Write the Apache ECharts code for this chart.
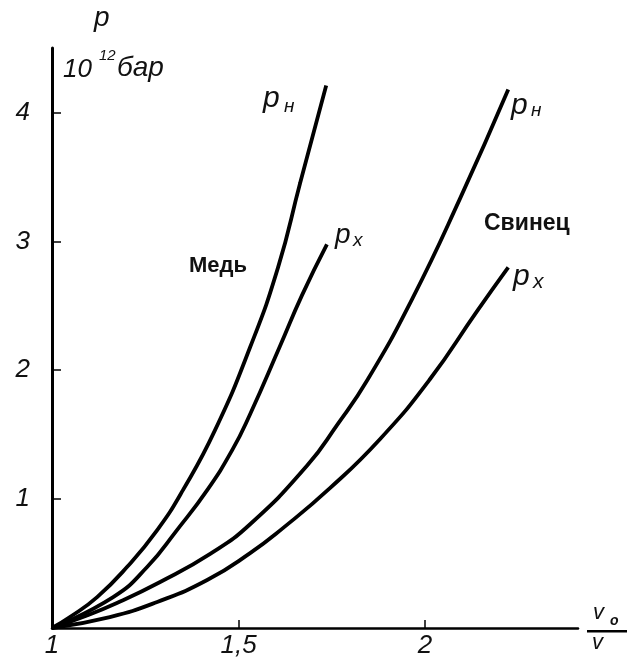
<!DOCTYPE html>
<html>
<head>
<meta charset="utf-8">
<script src="https://cdn.jsdelivr.net/npm/echarts@6/dist/echarts.min.js"></script>
<style>
  html, body { margin: 0; background: #fff; }
  #chart { width: 630px; height: 662px; }
</style>
</head>
<body>
<div id="chart"></div>
<script>
// x: v0/v, y: p in 10^12 bar
const xLabels = { 1: '1', 1.5: '1,5', 2: '2' };
const yLabels = { 1: '1', 2: '2', 3: '3', 4: '4' };

const copperPh = [[1, 0], [1.048, 0.085], [1.121, 0.24], [1.201, 0.473], [1.282, 0.76], [1.351, 1.07],
  [1.437, 1.535], [1.531, 2.178], [1.606, 2.798], [1.665, 3.45], [1.735, 4.209]];
const copperPx = [[1, 0], [1.164, 0.24], [1.255, 0.473], [1.335, 0.76], [1.416, 1.07], [1.483, 1.38],
  [1.531, 1.659], [1.611, 2.186], [1.67, 2.581], [1.737, 2.977]];
const leadPh = [[1, 0], [1.083, 0.085], [1.174, 0.194], [1.29, 0.357], [1.424, 0.575], [1.531, 0.805],
  [1.684, 1.26], [1.764, 1.574], [1.845, 1.922], [1.965, 2.55], [2.094, 3.333], [2.223, 4.178]];
const leadPx = [[1, 0], [1.155, 0.085], [1.282, 0.202], [1.416, 0.372], [1.531, 0.581], [1.619, 0.775],
  [1.745, 1.085], [1.879, 1.465], [2.013, 1.93], [2.139, 2.457], [2.223, 2.798]];

const ital = 'Liberation Sans';

function txt(x, y, text, size, opts) {
  return {
    type: 'text', left: x, top: y, silent: true,
    style: Object.assign({
      text: text, fill: '#111', fontSize: size,
      fontFamily: ital, fontStyle: 'italic'
    }, opts || {})
  };
}

function curve(data) {
  return {
    type: 'line', data: data, smooth: 0.5,
    showSymbol: false, silent: true,
    lineStyle: { color: '#000', width: 3.8 }
  };
}

const chart = echarts.init(document.getElementById('chart'));
chart.setOption({
  backgroundColor: '#fff',
  animation: false,
  grid: { left: 52, right: 52, top: 48, bottom: 34 },
  xAxis: {
    type: 'value', min: 1, max: 2.41, interval: 0.5,
    axisLine: { lineStyle: { color: '#000', width: 2.5 } },
    axisTick: { inside: true, length: 8, lineStyle: { color: '#000', width: 1.5 } },
    splitLine: { show: false },
    axisLabel: {
      showMaxLabel: false, margin: 5, color: '#111', fontSize: 26,
      fontFamily: ital, fontStyle: 'italic',
      formatter: v => xLabels[v] || ''
    }
  },
  yAxis: {
    type: 'value', min: 0, max: 4.5, interval: 1,
    axisLine: { lineStyle: { color: '#000', width: 3 } },
    axisTick: { inside: true, length: 9, lineStyle: { color: '#000', width: 1.5 } },
    splitLine: { show: false },
    axisLabel: {
      showMaxLabel: false, margin: 22, color: '#111', fontSize: 26,
      fontFamily: ital, fontStyle: 'italic',
      formatter: v => yLabels[v] || ''
    }
  },
  series: [curve(copperPh), curve(copperPx), curve(leadPh), curve(leadPx)],
  graphic: [
    // y axis name
    txt(94, 4, 'p', 28),
    txt(63, 57, '10', 26),
    txt(99, 48, '12', 15),
    txt(117, 54, 'бар', 28),
    // x axis name
    txt(593, 602, 'v', 22),
    txt(610, 614, 'o', 14, { fontWeight: 'bold' }),
    { type: 'rect', left: 587, top: 630, shape: { width: 40, height: 2.5 }, style: { fill: '#000' }, silent: true },
    txt(592, 632, 'v', 22),
    // copper
    txt(263, 84, 'p', 30),
    txt(284, 97, 'н', 19),
    txt(335, 221, 'p', 28),
    txt(353, 231, 'x', 19),
    txt(189, 255, 'Медь', 22, { fontStyle: 'normal', fontWeight: 'bold' }),
    // lead
    txt(511, 91, 'p', 30),
    txt(531, 101, 'н', 19),
    txt(484, 212, 'Свинец', 23, { fontStyle: 'normal', fontWeight: 'bold' }),
    txt(513, 262, 'p', 30),
    txt(533, 272, 'x', 21)
  ]
});
</script>
</body>
</html>
